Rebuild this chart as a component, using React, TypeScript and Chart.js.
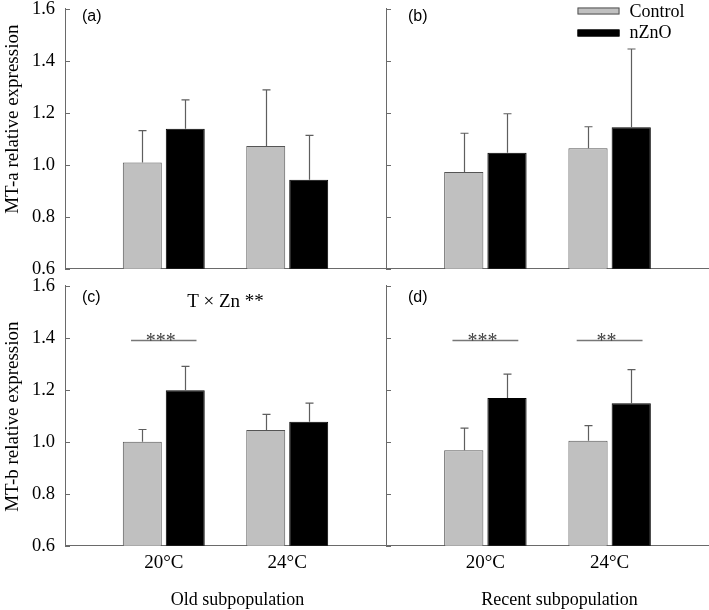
import React, { useEffect, useRef } from 'react';
import { Chart, registerables } from 'chart.js';

Chart.register(...registerables);

// ---------------- data ----------------
const temperatures = ['20°C', '24°C'];
const seriesNames = ['Control', 'nZnO'];

// (a) MT-a, old subpopulation
const mtaOldControl = [1.008, 1.072];
const mtaOldControlErr = [0.123, 0.216];
const mtaOldNzno = [1.138, 0.942];
const mtaOldNznoErr = [0.111, 0.171];

// (b) MT-a, recent subpopulation
const mtaRecentControl = [0.972, 1.063];
const mtaRecentControlErr = [0.149, 0.083];
const mtaRecentNzno = [1.046, 1.144];
const mtaRecentNznoErr = [0.15, 0.301];

// (c) MT-b, old subpopulation
const mtbOldControl = [1.0, 1.045];
const mtbOldControlErr = [0.047, 0.06];
const mtbOldNzno = [1.198, 1.077];
const mtbOldNznoErr = [0.092, 0.071];

// (d) MT-b, recent subpopulation
const mtbRecentControl = [0.967, 1.004];
const mtbRecentControlErr = [0.085, 0.058];
const mtbRecentNzno = [1.168, 1.148];
const mtbRecentNznoErr = [0.092, 0.129];

// significance brackets: group index, level, mark
const sigOldMtb = [{ group: 0, level: 1.39, mark: '***' }];
const sigRecentMtb = [
  { group: 0, level: 1.39, mark: '***' },
  { group: 1, level: 1.39, mark: '**' },
];

const yMin = 0.6;
const yMax = 1.6;
const yStep = 0.2;

// ---------------- styling ----------------
const W = 709;
const H = 610;
const SERIF = "'Liberation Serif', 'Times New Roman', serif";
const SANS = "'Liberation Sans', Arial, sans-serif";
const AXIS = '#6a6a6a';
const ERR = '#5e5e5e';
const CONTROL_FILL = '#c0c0c0';
const CONTROL_BORDER = '#555555';
const NZNO_FILL = '#000000';

interface Panel {
  letter: string;
  col: number;
  row: number;
  control: number[];
  controlErr: number[];
  nzno: number[];
  nznoErr: number[];
  yTitle?: string;
  xTitle?: string;
  sig?: { group: number; level: number; mark: string }[];
  note?: string;
  legend?: boolean;
}

const panels: Panel[] = [
  { letter: '(a)', col: 0, row: 0, control: mtaOldControl, controlErr: mtaOldControlErr, nzno: mtaOldNzno, nznoErr: mtaOldNznoErr, yTitle: 'MT-a relative expression' },
  { letter: '(b)', col: 1, row: 0, control: mtaRecentControl, controlErr: mtaRecentControlErr, nzno: mtaRecentNzno, nznoErr: mtaRecentNznoErr, legend: true },
  { letter: '(c)', col: 0, row: 1, control: mtbOldControl, controlErr: mtbOldControlErr, nzno: mtbOldNzno, nznoErr: mtbOldNznoErr, yTitle: 'MT-b relative expression', xTitle: 'Old subpopulation', sig: sigOldMtb, note: 'T × Zn **' },
  { letter: '(d)', col: 1, row: 1, control: mtbRecentControl, controlErr: mtbRecentControlErr, nzno: mtbRecentNzno, nznoErr: mtbRecentNznoErr, xTitle: 'Recent subpopulation', sig: sigRecentMtb },
];

function makeChart(canvas: HTMLCanvasElement, p: Panel) {
  const area = {
    left: p.col === 0 ? 65 : 386,
    right: p.col === 0 ? 386 : 709,
    top: p.row === 0 ? 8.7 : 285.7,
    bottom: p.row === 0 ? 268.7 : 545.7,
  };
  const showX = p.row === 1;
  const showY = p.col === 0;
  const yWidth = showY ? 60 : 0;
  const xHeight = showX ? 40 : 0;

  const deco = {
    id: 'deco' + p.letter,
    afterDatasetsDraw(chart: any) {
      const ctx = chart.ctx;
      const ys = chart.scales.y;
      ctx.save();
      ctx.strokeStyle = ERR;
      ctx.lineWidth = 1.2;
      chart.data.datasets.forEach((ds: any, di: number) => {
        const meta = chart.getDatasetMeta(di);
        meta.data.forEach((bar: any, i: number) => {
          const v = ds.data[i].y;
          const e = ds.errors[i];
          const yTop = ys.getPixelForValue(v + e);
          const x = Math.round(bar.x) + 0.5;
          ctx.beginPath();
          ctx.moveTo(x, bar.y);
          ctx.lineTo(x, yTop);
          ctx.moveTo(x - 4, yTop);
          ctx.lineTo(x + 4, yTop);
          ctx.stroke();
        });
      });
      ctx.restore();
    },
    afterDraw(chart: any) {
      const ctx = chart.ctx;
      const ca = chart.chartArea;
      const xs = chart.scales.x;
      const ys = chart.scales.y;
      ctx.save();
      // inward tick marks
      ctx.strokeStyle = AXIS;
      ctx.lineWidth = 1;
      ys.ticks.forEach((t: any) => {
        const py = Math.round(ys.getPixelForValue(t.value)) + 0.5;
        ctx.beginPath();
        ctx.moveTo(ca.left, py);
        ctx.lineTo(ca.left + 5, py);
        ctx.stroke();
      });
      // panel letter
      ctx.fillStyle = '#000';
      ctx.font = `16px ${SANS}`;
      ctx.textAlign = 'left';
      ctx.textBaseline = 'middle';
      ctx.fillText(p.letter, ca.left + (p.col === 0 ? 17 : 22), ca.top + (p.row === 0 ? 8 : 12));
      // y title
      if (p.yTitle) {
        ctx.save();
        const cy = (ca.top + ca.bottom) / 2 + (p.row === 0 ? -19.5 : 1);
        ctx.translate(13, cy);
        ctx.rotate(-Math.PI / 2);
        ctx.font = `19px ${SERIF}`;
        ctx.textAlign = 'center';
        ctx.textBaseline = 'middle';
        ctx.fillText(p.yTitle, 0, 0);
        ctx.restore();
      }
      // x title
      if (p.xTitle) {
        ctx.font = `18px ${SERIF}`;
        ctx.textAlign = 'center';
        ctx.textBaseline = 'alphabetic';
        ctx.fillText(p.xTitle, (ca.left + ca.right) / 2 + 12, 605);
      }
      // interaction note
      if (p.note) {
        ctx.font = `19px ${SERIF}`;
        ctx.textAlign = 'center';
        ctx.textBaseline = 'alphabetic';
        ctx.fillText(p.note, (ca.left + ca.right) / 2, ca.top + 21);
      }
      // significance brackets
      if (p.sig) {
        p.sig.forEach((s) => {
          const x1 = xs.getPixelForValue(s.group + 1 - 0.265);
          const x2 = xs.getPixelForValue(s.group + 1 + 0.265);
          const py = Math.round(ys.getPixelForValue(s.level)) + 0.5;
          ctx.strokeStyle = '#777';
          ctx.lineWidth = 1.5;
          ctx.beginPath();
          ctx.moveTo(x1, py);
          ctx.lineTo(x2, py);
          ctx.stroke();
          ctx.fillStyle = '#444';
          ctx.font = `20px ${SERIF}`;
          ctx.textAlign = 'center';
          ctx.textBaseline = 'alphabetic';
          ctx.fillText(s.mark, (x1 + x2) / 2 - 3, py + 6);
        });
      }
      // legend
      if (p.legend) {
        chart.data.datasets.forEach((ds: any, di: number) => {
          const bx = ca.right - 131.5;
          const by = 7.5 + di * 22;
          ctx.fillStyle = ds.backgroundColor;
          ctx.fillRect(bx, by, 42, 7);
          ctx.strokeStyle = ds.borderColor;
          ctx.lineWidth = 1;
          ctx.strokeRect(bx + 0.5, by + 0.5, 41, 6);
          ctx.fillStyle = '#000';
          ctx.font = `18px ${SERIF}`;
          ctx.textAlign = 'left';
          ctx.textBaseline = 'alphabetic';
          ctx.fillText(ds.label, bx + 52, 16.7 + di * 21.7);
        });
      }
      ctx.restore();
    },
  };

  return new Chart(canvas, {
    type: 'bar',
    data: {
      datasets: [
        {
          label: seriesNames[0],
          data: p.control.map((v, i) => ({ x: i + 1, y: v })),
          errors: p.controlErr,
          backgroundColor: CONTROL_FILL,
          borderColor: CONTROL_BORDER,
          borderWidth: 1,
        } as any,
        {
          label: seriesNames[1],
          data: p.nzno.map((v, i) => ({ x: i + 1, y: v })),
          errors: p.nznoErr,
          backgroundColor: NZNO_FILL,
          borderColor: '#000',
          borderWidth: 1,
        } as any,
      ],
    },
    options: {
      responsive: false,
      animation: false,
      devicePixelRatio: 1,
      categoryPercentage: 0.696,
      barPercentage: 0.907,
      layout: {
        autoPadding: false,
        padding: {
          left: area.left - yWidth,
          right: W - area.right,
          top: area.top,
          bottom: H - area.bottom - xHeight,
        },
      },
      plugins: { legend: { display: false }, tooltip: { enabled: false } },
      scales: {
        x: {
          type: 'linear',
          min: 0.2,
          max: 2.8,
          offset: false,
          bounds: 'data',
          grid: { display: true, offset: false, drawOnChartArea: false, drawTicks: false },
          border: { display: true, color: AXIS, width: 1 },
          afterBuildTicks: (axis: any) => {
            axis.ticks = temperatures.map((_, i) => ({ value: i + 1 }));
          },
          afterFit: (axis: any) => {
            axis.height = xHeight;
            axis.paddingLeft = 0;
            axis.paddingRight = 0;
          },
          ticks: {
            display: showX,
            padding: 6,
            color: '#000',
            font: { family: SERIF, size: 19 },
            maxRotation: 0,
            autoSkip: false,
            callback: (v: any) => temperatures[Math.round(v) - 1] ?? '',
          },
        },
        y: {
          type: 'linear',
          min: yMin,
          max: yMax,
          grid: { display: true, drawOnChartArea: false, drawTicks: false },
          border: { display: true, color: AXIS, width: 1 },
          afterFit: (axis: any) => {
            axis.width = yWidth;
            axis.paddingTop = 0;
            axis.paddingBottom = 0;
          },
          ticks: {
            display: showY,
            stepSize: yStep,
            padding: 10,
            color: '#000',
            font: { family: SERIF, size: 18.5 },
            callback: (v: any) => Number(v).toFixed(1),
          },
        },
      },
    } as any,
    plugins: [deco],
  });
}

export default function App() {
  const refs = useRef<(HTMLCanvasElement | null)[]>([]);
  useEffect(() => {
    const charts = panels.map((p, i) => makeChart(refs.current[i] as HTMLCanvasElement, p));
    return () => charts.forEach((c) => c.destroy());
  }, []);
  return (
    <div style={{ position: 'fixed', left: 0, top: 0, width: W, height: H, background: '#fff' }}>
      {panels.map((p, i) => (
        <canvas
          key={p.letter}
          ref={(el) => {
            refs.current[i] = el;
          }}
          width={W}
          height={H}
          style={{ position: 'absolute', left: 0, top: 0 }}
        />
      ))}
    </div>
  );
}
